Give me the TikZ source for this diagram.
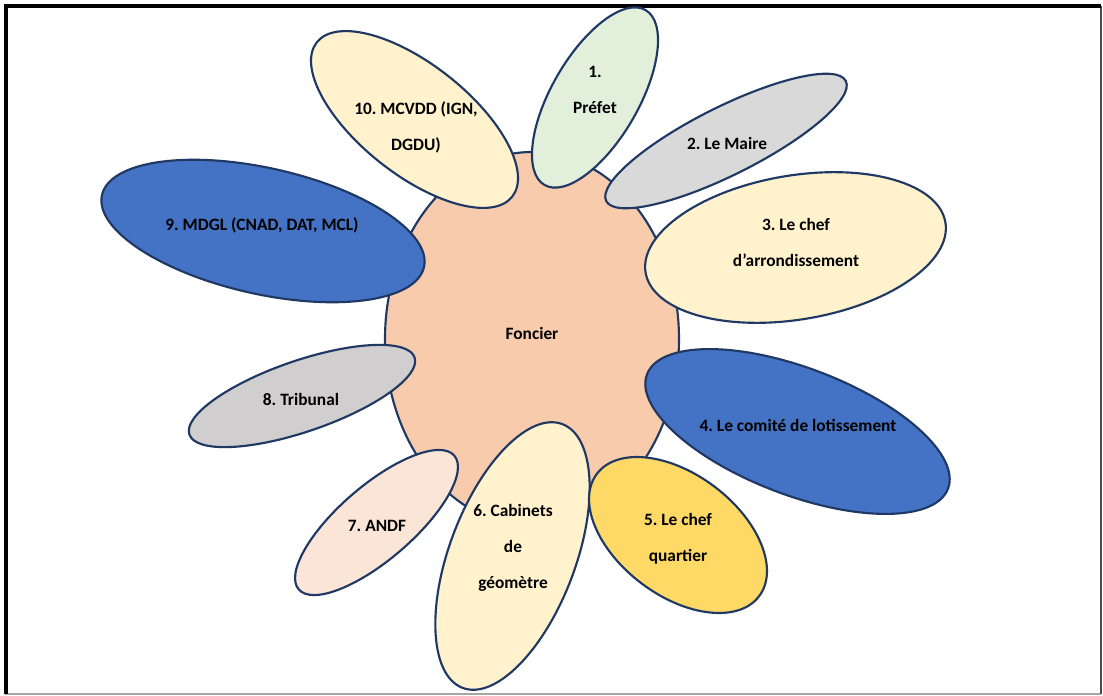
\documentclass[tikz,border=0pt]{standalone}
\usepackage{fontspec}
\setmainfont{Carlito}
\frenchspacing
\definecolor{edgeblue}{HTML}{1F3864}
\definecolor{centrefill}{HTML}{F8CBAD}
\definecolor{palegreen}{HTML}{E2EFDA}
\definecolor{lightgrey}{HTML}{D9D9D9}
\definecolor{paleyellow}{HTML}{FFF2CC}
\definecolor{midblue}{HTML}{4472C4}
\definecolor{gold}{HTML}{FFD966}
\definecolor{palepeach}{HTML}{FBE5D6}
\definecolor{warmgrey}{HTML}{D0CECE}
\begin{document}
\begin{tikzpicture}[x=0.75pt,y=-0.75pt,
  petal/.style={draw=edgeblue,line width=1.6pt},
  lbl/.style={font=\bfseries\fontsize{13}{27}\selectfont,align=center,inner sep=0pt}]
\useasboundingbox (0,0) rectangle (1103,696);
\fill[white] (0,0) rectangle (1103,696);
% frame
\draw[black!35,line width=1pt] (5,694) -- (1101,694);
\draw[black!70,line width=1.2pt] (1101,6) -- (1101,694);
\draw[line width=3pt] (5.5,694) -- (5.5,6) -- (1101,6);
% centre
\coordinate (O) at (532,339);
\draw[petal,fill=centrefill] (O) ellipse [x radius=147, y radius=187];
\node[lbl] (foncier) at (532,333) {Foncier};
% petals: number/x/y/a/b/angle/colour
\foreach \n/\x/\y/\ra/\rb/\r/\c in {1/595/97.5/101/43.5/60/palegreen,
    2/726/141/134/34/26.6/lightgrey,
    3/795.5/247.5/152/72/9.5/paleyellow,
    4/797.5/431.5/161/63.5/-20.8/midblue,
    6/512.5/556/141/63/69.3/paleyellow,
    5/678/535/101.6/60.6/-37/gold,
    7/376.5/522.5/102.6/37/40.7/palepeach,
    8/302/396/119/35.5/18.9/warmgrey,
    9/263/231/165/63/-12.6/midblue,
    10/414.5/119.5/124.5/55/-38.3/paleyellow}
  \draw[petal,fill=\c,rotate around={\r:(\x,\y)}] (\x,\y) ellipse [x radius=\ra, y radius=\rb];
% labels
\node[lbl] (prefet) at (595,90) {1.\\Préfet};
\node[lbl] (maire) at (727,143) {2. Le Maire};
\node[lbl] (arrond) at (796,242) {3. Le chef\\d’arrondissement};
\node[lbl] (comite) at (798,425) {4. Le comité de lotissement};
\node[lbl] (quartier) at (678,539) {5. Le chef\\quartier};
\node[lbl] (cabinets) at (513,548) {6. Cabinets\\de\\géomètre};
\node[lbl] (andf) at (377,526) {7. ANDF};
\node[lbl] (tribunal) at (301,399) {8. Tribunal};
\node[lbl] (mdgl) at (262,225) {9. MDGL (CNAD, DAT, MCL)};
\node[lbl] (mcvdd) at (416,127) {10. MCVDD (IGN,\\DGDU)};
\end{tikzpicture}
\end{document}
